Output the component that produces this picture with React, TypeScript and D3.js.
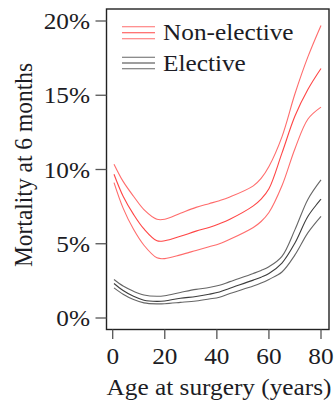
import React from "react";
import * as d3 from "d3";

// ages (years) at which the fitted curves were read
const ages = [0.5, 4, 8, 12, 17, 20, 26, 32, 37, 41, 45, 54, 57, 60, 65, 70, 75, 80];

// non-elective: upper CI, estimate, lower CI (% mortality)
const nonElectiveHi = [10.36, 9.2, 8.2, 7.3, 6.65, 6.65, 7.05, 7.45, 7.7, 7.9, 8.15, 8.9, 9.4, 10.2, 12.2, 15.1, 17.6, 19.7];
const nonElectiveMid = [9.68, 8.2, 6.98, 6.0, 5.2, 5.2, 5.5, 5.85, 6.1, 6.35, 6.65, 7.55, 8.0, 8.7, 11.1, 13.6, 15.4, 16.8];
const nonElectiveLo = [9.12, 7.4, 5.97, 4.9, 4.05, 4.0, 4.25, 4.55, 4.8, 5.0, 5.3, 6.1, 6.5, 7.1, 8.9, 11.4, 13.4, 14.2];

// elective: upper CI, estimate, lower CI (% mortality)
const electiveHi = [2.59, 2.15, 1.8, 1.55, 1.46, 1.5, 1.72, 1.93, 2.05, 2.2, 2.45, 3.0, 3.2, 3.45, 4.15, 5.95, 8.0, 9.3];
const electiveMid = [2.32, 1.85, 1.46, 1.2, 1.12, 1.15, 1.33, 1.45, 1.6, 1.75, 2.0, 2.55, 2.75, 3.0, 3.7, 5.05, 6.85, 8.0];
const electiveLo = [2.03, 1.6, 1.24, 1.02, 0.95, 0.96, 1.05, 1.15, 1.28, 1.4, 1.65, 2.15, 2.35, 2.6, 3.1, 4.25, 5.75, 6.85];

const xTicks = [0, 20, 40, 60, 80];
const yTicks = [0, 5, 10, 15, 20];
const legendLabels = ["Non-elective", "Elective"];

const RED = "#ff3b3b";
const DARK = "#333";
const FONT = "Liberation Serif, Times New Roman, serif";

// text in the picture is a bit wider than tall
function Label(props: {
  x: number;
  y: number;
  text: string;
  anchor?: string;
  rotate?: number;
  size?: number;
}) {
  const { x, y, text, anchor = "start", rotate = 0, size = 23 } = props;
  return (
    <text
      transform={`translate(${x},${y}) scale(1.1,1) rotate(${rotate})`}
      textAnchor={anchor}
      fontFamily={FONT}
      fontSize={size}
      fill="#1c1c24"
    >
      {text}
    </text>
  );
}

export default function App() {
  const box = { left: 106.5, right: 329, top: 9, bottom: 329.5 };

  const x = d3.scaleLinear().domain([0, 80]).range([112.7, 321]);
  const y = d3.scaleLinear().domain([0, 20]).range([318, 21]);

  const line = d3
    .line<[number, number]>()
    .x((d) => x(d[0]))
    .y((d) => y(d[1]))
    .curve(d3.curveCatmullRom.alpha(0.5));

  const series = [
    { vals: nonElectiveHi, color: RED, op: 0.75 },
    { vals: nonElectiveMid, color: RED, op: 0.95 },
    { vals: nonElectiveLo, color: RED, op: 0.75 },
    { vals: electiveHi, color: DARK, op: 0.75 },
    { vals: electiveMid, color: DARK, op: 0.95 },
    { vals: electiveLo, color: DARK, op: 0.75 },
  ];

  const legendY = [[26.7, 32.7, 38.7], [57.3, 63, 68.7]];
  const legendColors = [RED, DARK];

  return (
    <svg
      width={334}
      height={402}
      style={{ position: "absolute", left: 0, top: 0, background: "#fff" }}
    >
      {/* curves */}
      {series.map((s, i) => (
        <path
          key={i}
          d={line(ages.map((a, j) => [a, s.vals[j]] as [number, number])) || ""}
          fill="none"
          stroke={s.color}
          strokeOpacity={s.op}
          strokeWidth={1.1}
        />
      ))}

      {/* plot box */}
      <rect
        x={box.left}
        y={box.top}
        width={box.right - box.left}
        height={box.bottom - box.top}
        fill="none"
        stroke="#222"
        strokeWidth={1.4}
      />

      {/* y axis */}
      {yTicks.map((t) => (
        <g key={t}>
          <line x1={95.5} x2={box.left} y1={y(t)} y2={y(t)} stroke="#555" strokeWidth={1.3} />
          <Label x={90} y={y(t) + 8} text={`${t}%`} anchor="end" />
        </g>
      ))}

      {/* x axis */}
      {xTicks.map((t) => (
        <g key={t}>
          <line x1={x(t)} x2={x(t)} y1={box.bottom} y2={339} stroke="#555" strokeWidth={1.3} />
          <Label x={x(t)} y={364} text={String(t)} anchor="middle" />
        </g>
      ))}

      <Label x={219} y={395} text="Age at surgery (years)" anchor="middle" />
      <Label x={32} y={165} text="Mortality at 6 months" anchor="middle" rotate={-90} size={23.5} />

      {/* legend */}
      {legendLabels.map((lab, i) => (
        <g key={lab}>
          {legendY[i].map((ly, k) => (
            <line
              key={k}
              x1={122}
              x2={155}
              y1={ly}
              y2={ly}
              stroke={legendColors[i]}
              strokeOpacity={k === 1 ? 0.95 : 0.75}
              strokeWidth={1.1}
            />
          ))}
          <Label x={163} y={legendY[i][1] + 7.5} text={lab} />
        </g>
      ))}
    </svg>
  );
}
